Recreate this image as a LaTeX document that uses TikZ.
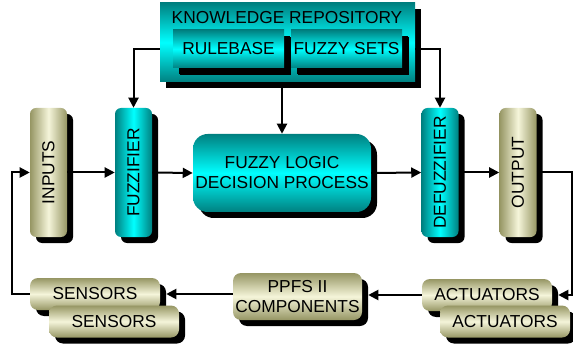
\documentclass[tikz,border=0pt]{standalone}
\usepackage{fontspec}
\setmainfont{Liberation Sans}
\usepackage{tikz}
\usetikzlibrary{arrows.meta,shadows}

\definecolor{tealD}{RGB}{0,128,128}
\definecolor{tealL}{RGB}{0,255,255}
\definecolor{khakiD}{RGB}{150,150,100}
\definecolor{khakiL}{RGB}{245,245,218}

\tikzset{
  shd/.style={drop shadow={shadow xshift=#1,shadow yshift=-#1,fill=black,opacity=1}},
  hteal/.style={top color=tealD,bottom color=tealD,middle color=tealL},
  vteal/.style={left color=tealD,right color=tealD,middle color=tealL},
  hkhaki/.style={top color=khakiD,bottom color=khakiD,middle color=khakiL},
  vkhaki/.style={left color=khakiD,right color=khakiD,middle color=khakiL},
  sqbox/.style={shd=4.5pt,inner sep=0pt},
  colbox/.style={shd=4.5pt,rounded corners=4.5pt,minimum width=27.75pt,minimum height=96.75pt,inner sep=0pt},
  flatbox/.style={shd=4.5pt,rounded corners=6pt,minimum width=97.5pt,minimum height=24pt,inner sep=0pt},
  arr/.style={line width=1.5pt,-{Triangle[length=7.5pt,width=7.5pt]}},
  ln/.style={line width=1.5pt}
}

\begin{document}
\begin{tikzpicture}[x=0.75pt,y=-0.75pt,font=\fontsize{13}{15}\selectfont]
  \useasboundingbox (0,0) rectangle (573,352);

  \draw (287.5,42.5) node[sqbox,hteal,minimum width=191.25pt,minimum height=59.25pt] (KR) {};
  \draw (287,18) node (KRtext) {KNOWLEDGE REPOSITORY};
  \draw (228.5,49) node[sqbox,shd=5.25pt,hteal,minimum width=83.25pt,minimum height=28.5pt] (rule) {RULEBASE};
  \draw (346.5,49) node[sqbox,shd=5.25pt,hteal,minimum width=83.25pt,minimum height=28.5pt] (sets) {FUZZY SETS};

  \draw (48.5,172.5) node[colbox,vkhaki] (inputs) {};
  \draw (inputs) node[rotate=90] (inputstext) {INPUTS};
  \draw (133.5,172.5) node[colbox,vteal] (fuzz) {};
  \draw (fuzz) node[rotate=90] (fuzztext) {FUZZIFIER};
  \draw (282,173) node[sqbox,hteal,rounded corners=11pt,minimum width=133.5pt,minimum height=58.5pt,align=center] (fldp) {FUZZY LOGIC\\DECISION PROCESS};
  \draw (440,172.5) node[colbox,vteal] (defuzz) {};
  \draw (defuzz) node[rotate=90] (defuzztext) {DEFUZZIFIER};
  \draw (518,172.5) node[colbox,vkhaki] (output) {};
  \draw (output) node[rotate=90] (outputtext) {OUTPUT};

  \draw (95,294) node[flatbox,hkhaki] (sensA) {SENSORS};
  \draw (114,321.5) node[flatbox,hkhaki] (sensB) {SENSORS};
  \draw (297.5,296.5) node[flatbox,hkhaki,minimum width=96.75pt,minimum height=35.25pt,align=center] (ppfs) {PPFS II\\COMPONENTS};
  \draw (487,295) node[flatbox,hkhaki] (actA) {ACTUATORS};
  \draw (505,321.5) node[flatbox,hkhaki] (actB) {ACTUATORS};

  \coordinate (fbL) at (12,0);
  \coordinate (fbR) at (572,0);

  \draw[arr] (KR.west |- rule) -| (fuzz.north);
  \draw[arr] (KR.east |- sets) -| (defuzz.north);
  \draw[arr] (fldp |- KR.south) -- (fldp.north);

  \path[arr] (inputs.east) edge (fuzz.west);
  \path[arr] (fuzz.east) edge (fldp.west);
  \path[arr] (fldp.east) edge (defuzz.west);
  \path[arr] (defuzz.east) edge (output.west);

  \draw[arr] (output.east) -- (output.east -| fbR) |- ([xshift=4.5pt]actA.east);
  \draw[arr] (actA.west) -- ([xshift=4.5pt]ppfs.east |- actA.west);
  \draw[arr] (ppfs.west |- sensA) -- ([xshift=4.5pt]sensA.east);
  \draw[arr] (sensA.west) -- (sensA.west -| fbL) |- (inputs.west);

\end{tikzpicture}
\end{document}
